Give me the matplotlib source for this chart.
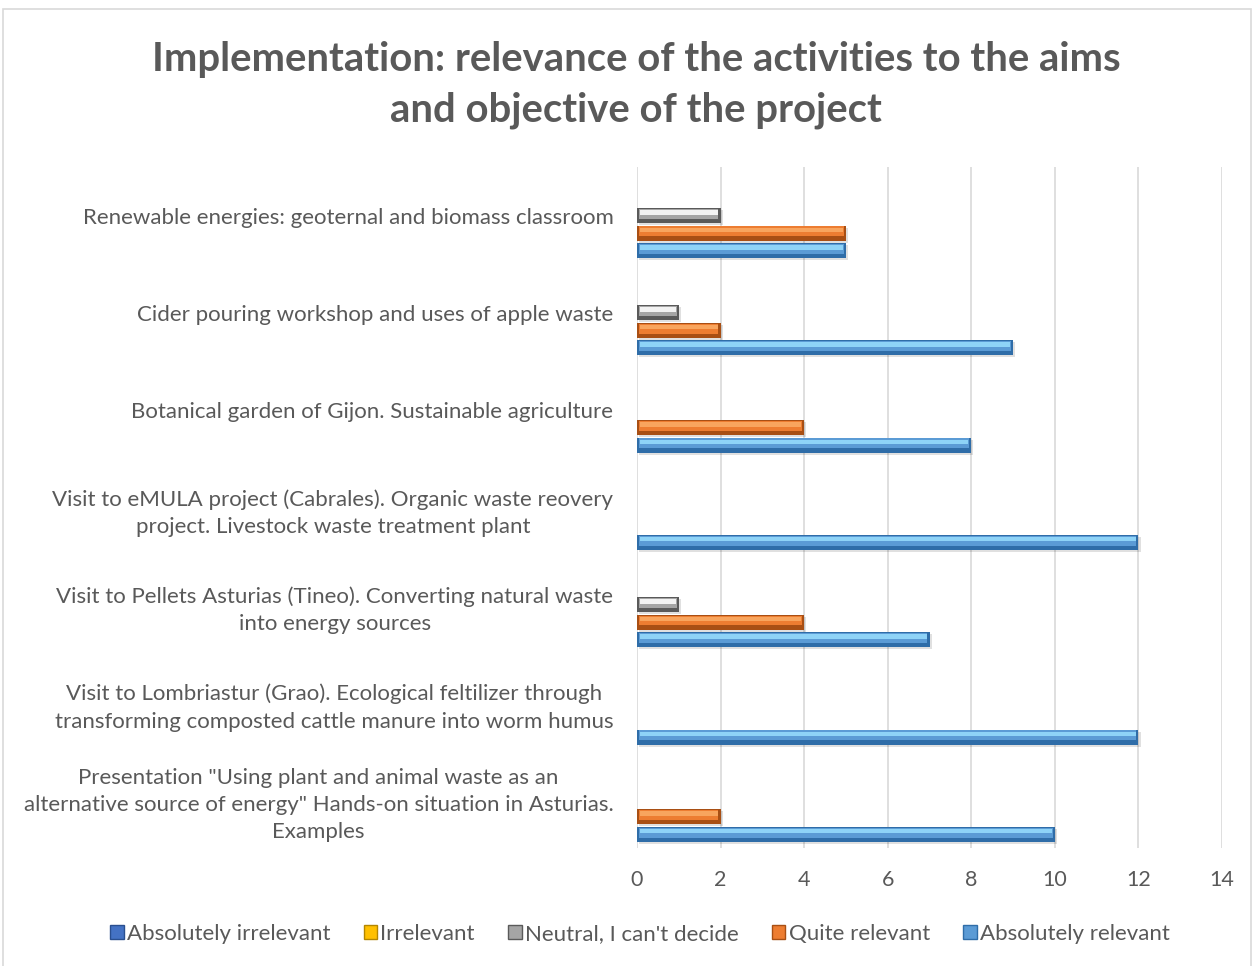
import numpy as np
import matplotlib.pyplot as plt
from matplotlib.patches import Patch, Rectangle

plt.rcParams['font.family'] = ['Lato', 'DejaVu Sans']

categories = [
    'Presentation "Using plant and animal waste as an\nalternative source of energy" Hands-on situation in Asturias.\nExamples',
    'Visit to Lombriastur (Grao). Ecological feltilizer through\ntransforming composted cattle manure into worm humus',
    'Visit to Pellets Asturias (Tineo). Converting natural waste\ninto energy sources',
    'Visit to eMULA project (Cabrales). Organic waste reovery\nproject. Livestock waste treatment plant',
    'Botanical garden of Gijon. Sustainable agriculture',
    'Cider pouring workshop and uses of apple waste',
    'Renewable energies: geoternal and biomass classroom',
]
series_names = ['Absolutely irrelevant', 'Irrelevant', "Neutral, I can't decide",
                'Quite relevant', 'Absolutely relevant']
abs_irrelevant = [0, 0, 0, 0, 0, 0, 0]
irrelevant = [0, 0, 0, 0, 0, 0, 0]
neutral = [0, 0, 1, 0, 0, 1, 2]
quite_relevant = [2, 0, 4, 0, 4, 2, 5]
abs_relevant = [10, 12, 7, 12, 8, 9, 5]
values = [abs_irrelevant, irrelevant, neutral, quite_relevant, abs_relevant]

base = ['#4472C4', '#FFC000', '#A5A5A5', '#ED7D31', '#5B9BD5']
light = ['#7FA6E8', '#FFE066', '#F2F2F2', '#F8A55E', '#8ED3F7']
dark = ['#2A4F8F', '#B38600', '#5A5A5A', '#A84F14', '#2F6DA8']

fig = plt.figure(figsize=(12.55, 9.66), dpi=100)
fig.patches.append(Rectangle((3 / 1255, -0.01), 1248 / 1255, 1 - 9 / 966 + 0.01,
                             transform=fig.transFigure, fill=False,
                             edgecolor='#D9D9D9', lw=1.2))
ax = fig.add_axes([637 / 1255, 1 - 848 / 966, (1222 - 637) / 1255, (848 - 167) / 966])

slot = 0.18
h = 0.155
y = np.arange(len(categories))
for k, vals in enumerate(values):
    off = (2 - k) * slot
    for i, v in enumerate(vals):
        if v <= 0:
            continue
        yy = y[i] + off
        # shadow
        ax.barh(yy - 0.02, v, height=h, left=0.05, color='#000000', alpha=0.12, lw=0, zorder=2)
        ax.barh(yy, v, height=h, color=dark[k], lw=0, zorder=3)
        ax.barh(yy + h * 0.12, v - 0.1, height=h * 0.66, left=0.05, color=base[k], lw=0, zorder=4)
        ax.barh(yy + h * 0.22, v - 0.14, height=h * 0.3, left=0.07, color=light[k], lw=0, zorder=5)

ax.set_xlim(0, 14)
ax.set_ylim(-0.5, len(categories) - 0.5)
ax.set_xticks(np.arange(0, 15, 2))
ax.set_yticks(y)
ax.set_yticklabels(categories, multialignment='center', linespacing=1.45)
ax.tick_params(axis='y', length=0, labelsize=16, labelcolor='#595959', pad=17)
ax.tick_params(axis='x', length=0, labelsize=15.5, labelcolor='#595959', pad=16)
ax.grid(axis='x', color='#D9D9D9', lw=1.2, zorder=0)
ax.set_axisbelow(True)
for s in ax.spines.values():
    s.set_visible(False)

fig.text(636 / 1255, 1 - 85 / 966,
         'Implementation: relevance of the activities to the aims\nand objective of the project',
         ha='center', va='center', fontsize=28.8, fontweight='bold', color='#595959',
         linespacing=1.45)

handles = [Patch(facecolor=base[k], edgecolor=dark[k], lw=1) for k in range(5)]
fig.legend(handles, series_names, loc='center', bbox_to_anchor=(640 / 1255, 1 - 934 / 966),
           ncol=5, frameon=False, fontsize=16, labelcolor='#595959',
           handlelength=0.6, handleheight=0.6, handletextpad=0.15, columnspacing=1.5)

fig.savefig('out.png', dpi=100)
